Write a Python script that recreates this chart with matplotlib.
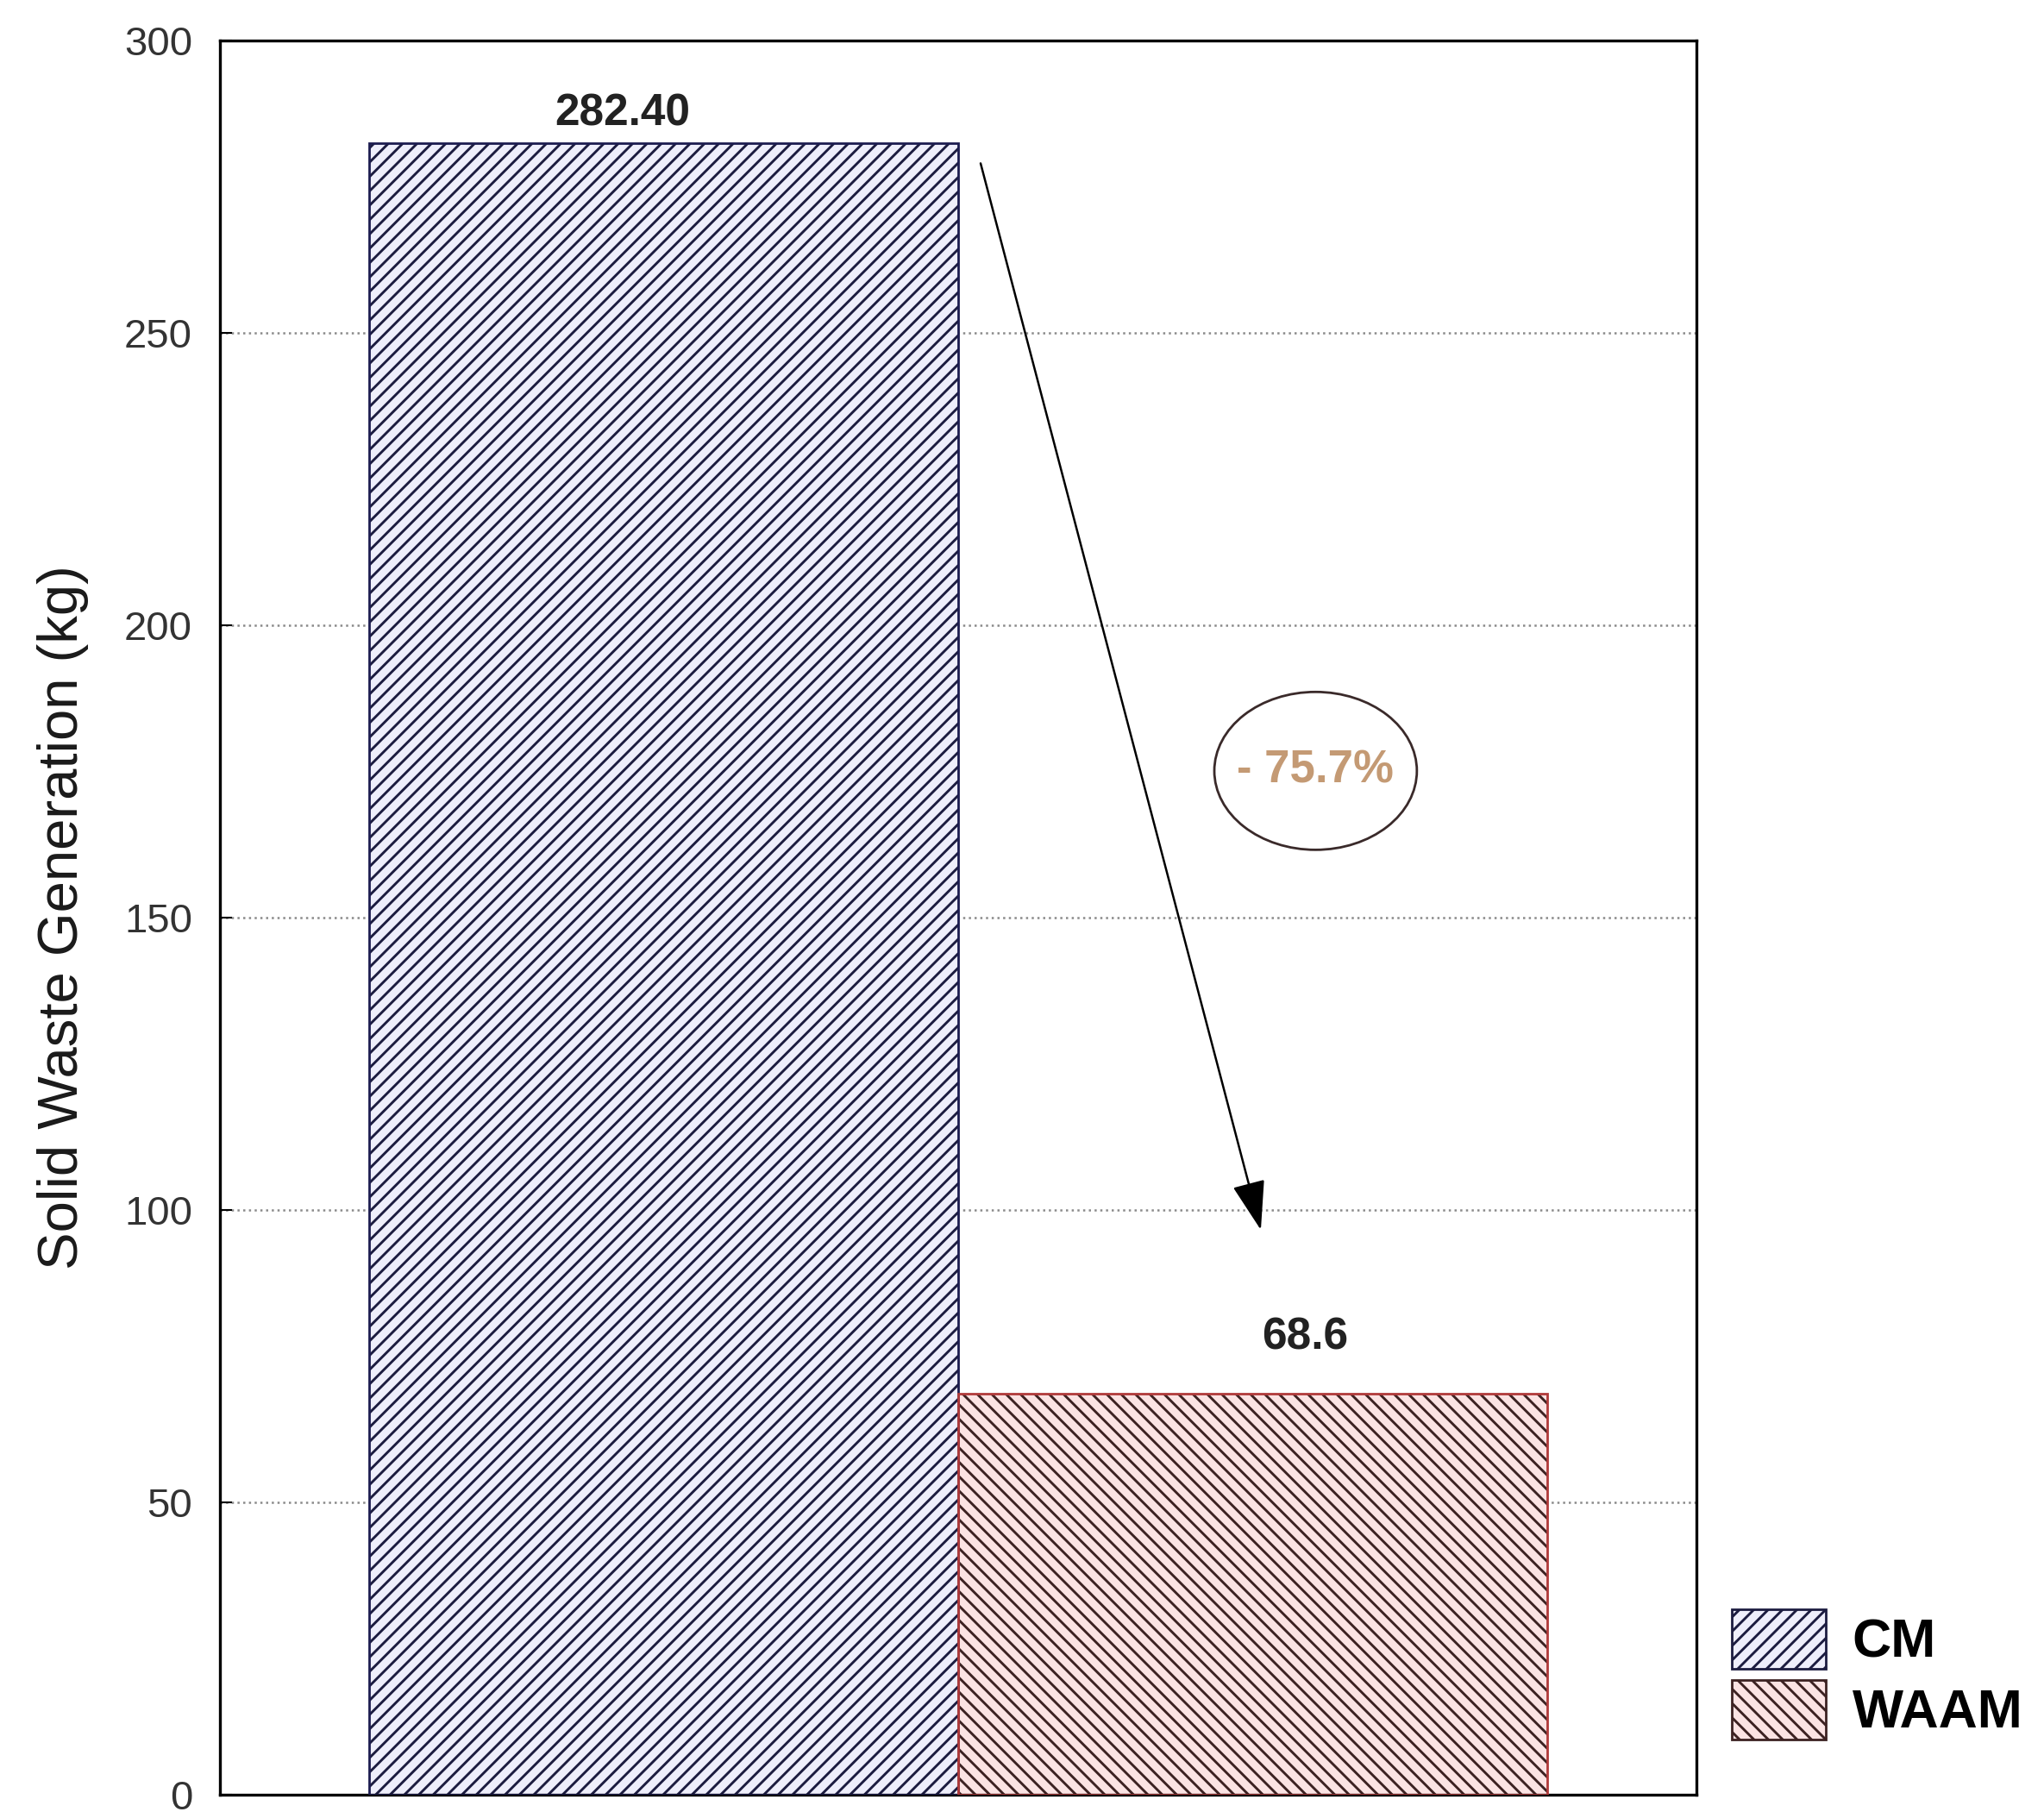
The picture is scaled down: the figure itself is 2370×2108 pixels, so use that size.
import matplotlib
matplotlib.use("Agg")
import matplotlib.pyplot as plt
from matplotlib.patches import Ellipse, Patch
import numpy as np

# solid waste per process
CATEGORIES = ["CM", "WAAM"]
WASTE_KG = [282.40, 68.6]
VALUE_LABELS = ["282.40", "68.6"]
Y_TICKS = [0, 50, 100, 150, 200, 250, 300]
REDUCTION_LABEL = "- 75.7%"

# colours: fill, hatch (dark) and outline of each bar
FILL_COLORS = ["#eeeefb", "#fbe3e3"]
HATCH_COLORS = ["#1c1c40", "#3c2222"]
EDGE_COLORS = ["#1c1c50", "#b03a3a"]
HATCHES = ["//", "\\\\"]

plt.rcParams["font.family"] = ["Liberation Sans", "DejaVu Sans"]
plt.rcParams["hatch.linewidth"] = 2.1

fig = plt.figure(figsize=(23.7, 21.08), dpi=100)
ax = fig.add_axes([0.1076, 0.0128, 0.7224, 0.9649])

# bars touch each other, so width 1 and centres half a unit from 0
x_positions = np.arange(len(CATEGORIES)) - 0.5

# hatch follows the edge colour, so draw the hatch first and the outline on top
for index in range(len(CATEGORIES)):
    ax.bar(x_positions[index], WASTE_KG[index], width=1.0,
           facecolor=FILL_COLORS[index], edgecolor=HATCH_COLORS[index],
           hatch=HATCHES[index], linewidth=0, zorder=2)
    ax.bar(x_positions[index], WASTE_KG[index], width=1.0,
           facecolor="none", edgecolor=EDGE_COLORS[index], linewidth=2, zorder=3)

# value labels above the bars (slightly off centre like the original)
label_offsets = [(-0.07, 5.0), (0.089, 9.5)]
for index in range(len(CATEGORIES)):
    ax.text(x_positions[index] + label_offsets[index][0],
            WASTE_KG[index] + label_offsets[index][1],
            VALUE_LABELS[index], fontsize=37, fontweight="bold",
            color="#222222", ha="center", va="center")

# arrow from the CM bar down towards the WAAM bar
ax.annotate("", xy=(0.514, 96.6), xytext=(0.038, 279.0),
            arrowprops=dict(arrowstyle="-|>,head_length=0.6,head_width=0.2",
                            color="black", lw=1.8, mutation_scale=60,
                            shrinkA=0, shrinkB=0),
            zorder=5)

# circled reduction percentage
ax.add_patch(Ellipse((0.607, 175.1), width=0.344, height=27.0,
                     facecolor="none", edgecolor="#3a2a2a", linewidth=2, zorder=5))
ax.text(0.607, 175.1, REDUCTION_LABEL, fontsize=38, fontweight="bold",
        color="#c49a74", ha="center", va="center", zorder=6)

# axes range and ticks
ax.set_xlim(-1.254, 1.254)
ax.set_ylim(0, 300)
ax.set_xticks([])
ax.set_yticks(Y_TICKS)
ax.tick_params(axis="y", direction="in", length=10, width=1.5, pad=23,
               labelsize=34, labelcolor="#333333")

# dotted gray grid behind the bars
ax.set_axisbelow(True)
ax.yaxis.grid(True, linestyle=":", color="#8a8a8a", linewidth=1.8)

for spine in ax.spines.values():
    spine.set_linewidth(2.4)
    spine.set_color("black")

ax.set_ylabel("Solid Waste Generation (kg)", fontsize=47, color="#1a1a1a")
ax.yaxis.set_label_coords(-0.0885, 0.5)

# legend outside the axes, bottom right
legend_handles = [
    Patch(facecolor=FILL_COLORS[index], edgecolor=HATCH_COLORS[index],
          hatch=HATCHES[index], linewidth=2)
    for index in range(len(CATEGORIES))
]
fig.legend(legend_handles, CATEGORIES, loc="upper left",
           bbox_to_anchor=(0.8473, 0.1148), bbox_transform=fig.transFigure,
           frameon=False, borderpad=0, borderaxespad=0,
           handlelength=1.75, handleheight=1.33, handletextpad=0.48,
           labelspacing=0.2, prop={"size": 45, "weight": "bold"})

plt.savefig("out.png", dpi=100)
